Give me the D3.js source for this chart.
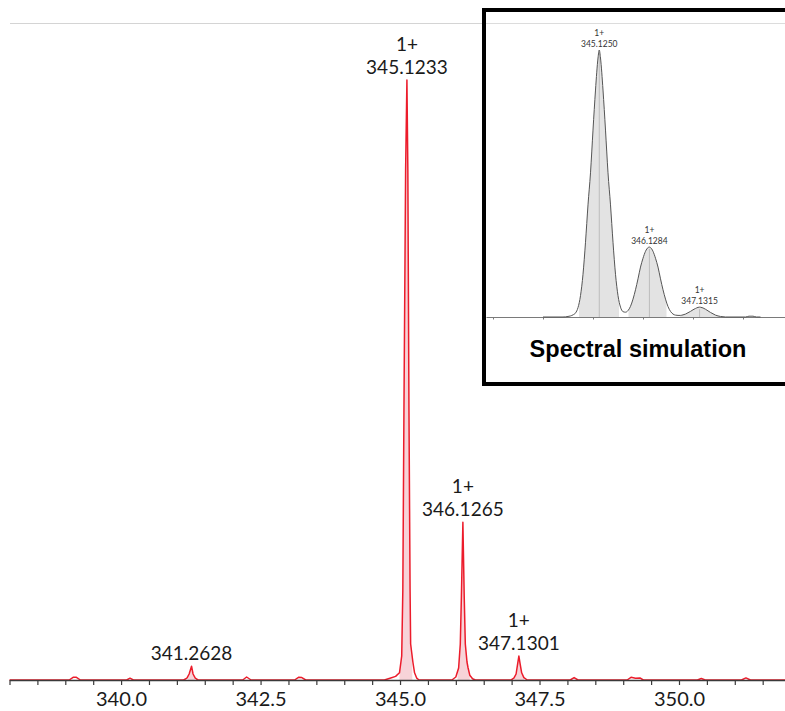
<!DOCTYPE html>
<html>
<head>
<meta charset="utf-8">
<script src="https://cdn.jsdelivr.net/npm/d3@7"></script>
<style>
  html, body { margin: 0; padding: 0; background: #fff; }
  svg { display: block; }
</style>
</head>
<body>
<svg id="chart" width="785" height="711"></svg>
<script>
// Measured profile spectrum: [m/z, relative intensity %]
const measuredProfile = [
  [338.0, 0],
  [339.07, 0], [339.14, 0.45], [339.2, 0.45], [339.27, 0],
  [340.1, 0], [340.16, 0.3], [340.22, 0],
  [341.12, 0], [341.18, 0.3], [341.22, 1.0], [341.2628, 2.3], [341.29, 1.0], [341.33, 0.3], [341.38, 0],
  [342.18, 0], [342.25, 0.5], [342.33, 0],
  [343.11, 0], [343.18, 0.45], [343.24, 0.4], [343.31, 0],
  [344.72, 0], [344.82, 0.3], [344.92, 0.6], [344.99, 1.2], [345.03, 4], [345.05, 15], [345.07, 45],
  [345.1, 85], [345.1233, 100], [345.14, 85], [345.16, 45], [345.18, 15], [345.19, 6], [345.21, 4.5],
  [345.23, 3], [345.26, 1.2], [345.3, 0.3], [345.34, 0],
  [345.93, 0], [346.0, 0.5], [346.05, 2], [346.08, 6], [346.1, 14], [346.1265, 26.3], [346.15, 14],
  [346.17, 6], [346.2, 3], [346.22, 2], [346.25, 0.8], [346.3, 0.2], [346.35, 0],
  [346.99, 0], [347.04, 0.3], [347.08, 1.0], [347.11, 2.8], [347.1301, 4.0], [347.15, 2.8],
  [347.18, 1.2], [347.22, 0.4], [347.28, 0],
  [348.05, 0], [348.12, 0.4], [348.19, 0],
  [349.07, 0], [349.14, 0.45], [349.22, 0.3], [349.3, 0.35], [349.36, 0],
  [350.33, 0], [350.4, 0.25], [350.47, 0],
  [351.12, 0], [351.2, 0.35], [351.28, 0],
  [351.9, 0]
];

// Integration windows shaded under the measured peaks
const measuredWindows = [[341.2, 341.32], [344.99, 345.22], [346.03, 346.25], [347.05, 347.22]];

// Annotated measured peaks
const measuredPeakMz = [345.1233, 346.1265, 347.1301, 341.2628];
const measuredPeakIntensity = [100, 26.3, 4.0, 2.3];
const measuredPeakCharge = ["1+", "1+", "1+", ""];

// Axis ticks
const mainTicks = d3.range(0, 28).map(i => 338 + i * 0.5);
const mainTickLabels = [340.0, 342.5, 345.0, 347.5, 350.0];

// Simulated isotope pattern: [m/z, relative intensity %]
const simProfile = [
  [344.0, 0], [344.4, 0], [344.5, 0.2], [344.55, 0.4], [344.6, 0.8], [344.65, 1.5], [344.7, 3.5],
  [344.75, 8], [344.8, 16], [344.85, 28], [344.9, 42], [344.95, 54], [345.0, 70], [345.05, 85],
  [345.1, 97], [345.125, 100], [345.15, 97], [345.2, 85], [345.25, 70], [345.3, 54], [345.35, 42],
  [345.4, 28], [345.45, 16], [345.5, 8], [345.55, 3.7], [345.6, 2.0], [345.65, 1.8], [345.7, 2.4],
  [345.75, 4.0], [345.8, 6.7], [345.85, 10.2], [345.9, 14.3], [345.95, 18.7], [346.0, 22],
  [346.05, 24.6], [346.1, 26.0], [346.1284, 26.2], [346.15, 26.0], [346.2, 24.6], [346.25, 22],
  [346.3, 18.7], [346.35, 14.3], [346.4, 10.2], [346.45, 6.7], [346.5, 3.9], [346.55, 2.1],
  [346.6, 1.1], [346.65, 0.7], [346.7, 0.6], [346.75, 0.6], [346.8, 0.8], [346.85, 1.1],
  [346.9, 1.6], [346.95, 2.1], [347.0, 2.7], [347.05, 3.2], [347.1, 3.6], [347.1315, 3.7],
  [347.15, 3.65], [347.2, 3.4], [347.25, 2.9], [347.3, 2.3], [347.35, 1.7], [347.4, 1.2],
  [347.45, 0.7], [347.5, 0.4], [347.55, 0.2], [347.6, 0.1], [347.65, 0], [348.05, 0],
  [348.12, 0.3], [348.2, 0.3], [348.27, 0], [348.35, 0]
];
const simWindows = [[344.72, 345.52], [345.71, 346.47], [346.74, 347.54]];
const simPeakMz = [345.1250, 346.1284, 347.1315];
const simPeakIntensity = [100, 26.2, 3.7];
const simPeakCharge = ["1+", "1+", "1+"];
const simTicks = [343, 344, 345, 346, 347, 348];
const insetTitle = "Spectral simulation";

const svg = d3.select("#chart");
const labelFont = "Lato, 'Open Sans', sans-serif";

// ---------- main spectrum ----------
const x = d3.scaleLinear().domain([338, 351.9]).range([9.5, 785]);
const y = d3.scaleLinear().domain([0, 100]).range([680, 80]);

// thin rule along the top of the plot area
svg.append("line")
  .attr("x1", 10).attr("x2", 785).attr("y1", 23.5).attr("y2", 23.5)
  .attr("stroke", "#d4d4d4").attr("stroke-width", 1);

const defs = svg.append("defs");

const mainArea = d3.area().x(d => x(d[0])).y0(y(0)).y1(d => y(d[1]));
const mainLine = d3.line().x(d => x(d[0])).y(d => y(d[1]));

measuredWindows.forEach((w, i) => {
  defs.append("clipPath").attr("id", "mw" + i)
    .append("rect")
    .attr("x", x(w[0])).attr("width", x(w[1]) - x(w[0]))
    .attr("y", 0).attr("height", 711);
  svg.append("path")
    .datum(measuredProfile)
    .attr("clip-path", `url(#mw${i})`)
    .attr("d", mainArea)
    .attr("fill", "#f7d3d8");
});

svg.append("path")
  .datum(measuredProfile)
  .attr("d", mainLine)
  .attr("fill", "none")
  .attr("stroke", "#ec1c2b")
  .attr("stroke-width", 1.5)
  .attr("stroke-linejoin", "round");

const xAxis = d3.axisBottom(x)
  .tickValues(mainTicks)
  .tickSize(5)
  .tickSizeOuter(0)
  .tickFormat(d => mainTickLabels.some(v => Math.abs(v - d) < 1e-9) ? d.toFixed(1) : "");

const gx = svg.append("g").attr("transform", `translate(0,${y(0)})`).call(xAxis);
gx.select(".domain").attr("stroke", "#3a3a3a").attr("stroke-width", 1.5);
gx.selectAll(".tick line").attr("stroke", "#3a3a3a").attr("stroke-width", 1.2);
gx.selectAll(".tick text")
  .attr("y", 26).attr("dy", 0)
  .attr("fill", "#1a1a1a")
  .style("font-family", labelFont)
  .style("font-size", "20px");

// peak annotations
measuredPeakMz.forEach((mz, i) => {
  const px = x(mz), py = y(measuredPeakIntensity[i]);
  svg.append("text")
    .attr("x", px).attr("y", py - 6)
    .attr("text-anchor", "middle")
    .attr("fill", "#1a1a1a")
    .style("font-family", labelFont).style("font-size", "19px")
    .text(mz.toFixed(4));
  if (measuredPeakCharge[i]) {
    svg.append("text")
      .attr("x", px).attr("y", py - 29)
      .attr("text-anchor", "middle")
      .attr("fill", "#1a1a1a")
      .style("font-family", labelFont).style("font-size", "19px")
      .text(measuredPeakCharge[i]);
  }
});

// ---------- inset: simulated pattern ----------
const inset = svg.append("g");
inset.append("rect")
  .attr("x", 484).attr("y", 10).attr("width", 330).attr("height", 374)
  .attr("fill", "#fff").attr("stroke", "#000").attr("stroke-width", 4);
inset.append("line")
  .attr("x1", 486).attr("x2", 785).attr("y1", 23.5).attr("y2", 23.5)
  .attr("stroke", "#dcdcdc").attr("stroke-width", 1);

const xs = d3.scaleLinear().domain([342.86, 348.84]).range([486, 785]);
const ys = d3.scaleLinear().domain([0, 100]).range([317, 50]);

const simArea = d3.area().curve(d3.curveMonotoneX)
  .x(d => xs(d[0])).y0(ys(0)).y1(d => ys(d[1]));
const simLine = d3.line().curve(d3.curveMonotoneX)
  .x(d => xs(d[0])).y(d => ys(d[1]));

simWindows.forEach((w, i) => {
  defs.append("clipPath").attr("id", "sw" + i)
    .append("rect")
    .attr("x", xs(w[0])).attr("width", xs(w[1]) - xs(w[0]))
    .attr("y", 0).attr("height", 711);
  inset.append("path")
    .datum(simProfile)
    .attr("clip-path", `url(#sw${i})`)
    .attr("d", simArea)
    .attr("fill", "#e3e3e3");
});

// centroid sticks
simPeakMz.forEach((mz, i) => {
  inset.append("line")
    .attr("x1", xs(mz)).attr("x2", xs(mz))
    .attr("y1", ys(0)).attr("y2", ys(simPeakIntensity[i]) + 2)
    .attr("stroke", "#bcbcbc").attr("stroke-width", 1);
});

// inset axis
const xsAxis = d3.axisBottom(xs).tickValues(simTicks).tickSize(2.5).tickSizeOuter(0).tickFormat("");
const gxs = inset.append("g").attr("transform", `translate(0,${ys(0)})`).call(xsAxis);
gxs.select(".domain").attr("stroke", "#7a7a7a").attr("stroke-width", 1);
gxs.selectAll(".tick line").attr("stroke", "#7a7a7a");

inset.append("path")
  .datum(simProfile)
  .attr("d", simLine)
  .attr("fill", "none")
  .attr("stroke", "#555")
  .attr("stroke-width", 1);

simPeakMz.forEach((mz, i) => {
  const px = xs(mz), py = ys(simPeakIntensity[i]);
  inset.append("text")
    .attr("x", px).attr("y", py - 3)
    .attr("text-anchor", "middle").attr("fill", "#333")
    .style("font-family", labelFont).style("font-size", "8.5px")
    .text(mz.toFixed(4));
  inset.append("text")
    .attr("x", px).attr("y", py - 14)
    .attr("text-anchor", "middle").attr("fill", "#333")
    .style("font-family", labelFont).style("font-size", "8.5px")
    .text(simPeakCharge[i]);
});

inset.append("text")
  .attr("x", 638).attr("y", 357)
  .attr("text-anchor", "middle")
  .attr("fill", "#000")
  .style("font-family", "'Liberation Sans', Arial, sans-serif")
  .style("font-weight", "bold")
  .style("font-size", "23.5px")
  .text(insetTitle);
</script>
</body>
</html>
